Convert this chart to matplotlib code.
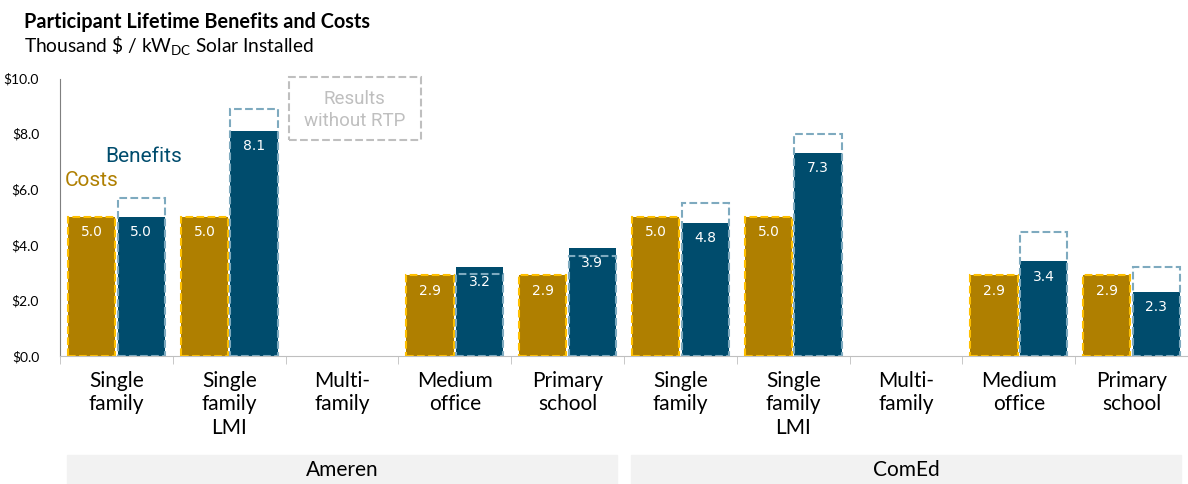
import numpy as np
import matplotlib.pyplot as plt
from matplotlib.patches import Rectangle
import matplotlib.transforms as mtransforms

plt.rcParams['font.family'] = 'Lato'
plt.rcParams['mathtext.fontset'] = 'custom'
plt.rcParams['mathtext.rm'] = 'Lato'

# Data
categories = ['Single\nfamily', 'Single\nfamily\nLMI', 'Multi-\nfamily', 'Medium\noffice', 'Primary\nschool',
              'Single\nfamily', 'Single\nfamily\nLMI', 'Multi-\nfamily', 'Medium\noffice', 'Primary\nschool']
utilities = ['Ameren', 'ComEd']
costs = [5.0, 5.0, np.nan, 2.9, 2.9, 5.0, 5.0, np.nan, 2.9, 2.9]
benefits = [5.0, 8.1, np.nan, 3.2, 3.9, 4.8, 7.3, np.nan, 3.4, 2.3]
benefits_no_rtp = [5.7, 8.9, np.nan, 2.95, 3.6, 5.5, 8.0, np.nan, 4.45, 3.2]
yticks = [0, 2, 4, 6, 8, 10]

cost_color = '#AF7F00'
cost_edge = '#FFC000'
ben_color = '#004C6D'
ben_edge = '#7EAABF'
grey = '#BFBFBF'

fig = plt.figure(figsize=(11.88, 4.84), dpi=100)
ax = fig.add_axes([60 / 1188, 1 - 356 / 484, 1128 / 1188, 278 / 484])

x = np.arange(len(categories))
w = 0.42
off = 0.22

ax.bar(x - off, costs, w, color=cost_color, edgecolor=cost_edge, linestyle='--', linewidth=1.5, zorder=2)
ax.bar(x + off, benefits, w, color=ben_color, zorder=2)
ax.bar(x + off, benefits_no_rtp, w, fill=False, edgecolor=ben_edge, linestyle='--', linewidth=1.5, zorder=3)

for xi, c, b in zip(x, costs, benefits):
    if not np.isnan(c):
        ax.text(xi - off, c - 0.55, f'{c:.1f}', color='white', ha='center', va='center', fontsize=10,
                family='DejaVu Sans', zorder=4)
    if not np.isnan(b):
        ax.text(xi + off, b - 0.55, f'{b:.1f}', color='white', ha='center', va='center', fontsize=10,
                family='DejaVu Sans', zorder=4)

ax.set_xlim(-0.5, -0.5 + 1128 / 114)
ax.set_ylim(0, 10)
ax.set_yticks(yticks)
ax.set_yticklabels([f'${v:.1f}' for v in yticks])
ax.tick_params(axis='y', length=0, pad=15, labelsize=10)

ax.set_xticks(x)
ax.set_xticklabels(categories, fontsize=15, linespacing=1.2)
ax.set_xticks(np.arange(-0.5, len(categories), 1), minor=True)
ax.tick_params(axis='x', which='major', length=0, pad=11)
ax.tick_params(axis='x', which='minor', length=6, color=grey, direction='out')

for s in ['top', 'right']:
    ax.spines[s].set_visible(False)
ax.spines['left'].set_color('#7F7F7F')
ax.spines['bottom'].set_color(grey)
ax.spines['left'].set_bounds(0, 9.95)

# utility group boxes
trans = mtransforms.blended_transform_factory(ax.transData, ax.transAxes)
y0 = (356 - 484) / 278
h = 29 / 278
for i, name in enumerate(utilities):
    left = -0.5 + 5 * i + 0.06
    right = left + 5 - 0.12
    ax.add_patch(Rectangle((left, y0), right - left, h, transform=trans, color='#F2F2F2',
                           clip_on=False, zorder=0))
    ax.text(2 + 5 * i, y0 + h / 2, name, transform=trans, ha='center', va='center', fontsize=15)

# annotations
ax.text(0.24, 7.16, 'Benefits', color=ben_color, ha='center', va='center', fontsize=15, family='Roboto')
ax.text(-0.22, 6.33, 'Costs', color=cost_color, ha='center', va='center', fontsize=15, family='Roboto')
ax.add_patch(Rectangle((1.526, 7.77), 1.175, 2.27, fill=False, edgecolor=grey, linestyle='--',
                       linewidth=1.5, clip_on=False))
ax.text(2.11, 8.85, 'Results\nwithout RTP', color=grey, ha='center', va='center', fontsize=13.5,
        family='Roboto', linespacing=1.3)

fig.text(24 / 1188, 1 - 22 / 484, 'Participant Lifetime Benefits and Costs', fontsize=14.3,
         fontweight='bold', va='center')
fig.text(24 / 1188, 1 - 46 / 484, 'Thousand \\$ / kW$_{\\mathrm{DC}}$ Solar Installed', fontsize=13.8,
         va='center')

fig.savefig('out.png', dpi=100)
